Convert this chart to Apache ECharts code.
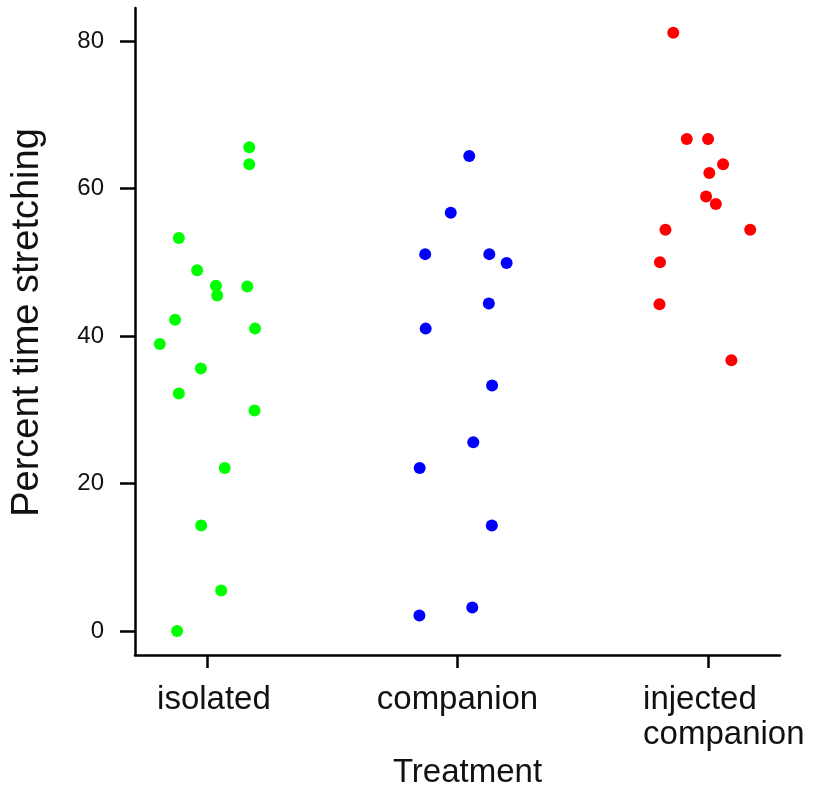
<!DOCTYPE html>
<html>
<head>
<meta charset="utf-8">
<script src="https://cdn.jsdelivr.net/npm/echarts@6/dist/echarts.min.js"></script>
<style>html,body{margin:0;padding:0;background:#fff;overflow:hidden;}#c{width:813px;height:786px;}</style>
</head>
<body>
<div id="c"></div>
<script>
var categories = ['isolated', 'companion', 'injected\ncompanion'];
var colors = ['#00ff00', '#0000ff', '#ff0000'];
var yTicks = [0, 20, 40, 60, 80];

var isolatedValues = [65.6, 63.3, 53.3, 48.9, 46.8, 45.5, 46.7, 42.2, 41.0, 38.9, 35.6, 32.2, 29.9, 22.1, 14.3, 5.5, 0];
var isolatedJitter = [0.169, 0.169, -0.112, -0.039, 0.036, 0.041, 0.161, -0.127, 0.192, -0.188, -0.024, -0.112, 0.190, 0.071, -0.023, 0.057, -0.119];

var companionValues = [64.4, 56.7, 51.1, 51.1, 49.9, 44.4, 41.0, 33.3, 25.6, 22.1, 14.3, 3.2, 2.1];
var companionJitter = [0.047, -0.027, -0.129, 0.127, 0.196, 0.125, -0.127, 0.138, 0.063, -0.151, 0.137, 0.059, -0.152];

var injectedValues = [81.1, 66.7, 66.7, 63.3, 62.1, 58.9, 57.9, 54.4, 54.4, 50.0, 44.3, 36.7];
var injectedJitter = [-0.139, -0.085, 0.0, 0.060, 0.005, -0.008, 0.031, -0.170, 0.168, -0.192, -0.194, 0.093];

var groups = [
  {values: isolatedValues, jitter: isolatedJitter},
  {values: companionValues, jitter: companionJitter},
  {values: injectedValues, jitter: injectedJitter}
];

var series = groups.map(function (g, i) {
  return {
    type: 'scatter',
    name: categories[i],
    symbol: 'circle',
    symbolSize: 12,
    itemStyle: {color: colors[i], opacity: 1},
    data: g.values.map(function (v, k) { return [i + 1 + g.jitter[k], v]; })
  };
});

var font = '"Liberation Sans", Arial, sans-serif';
var chart = echarts.init(document.getElementById('c'));
chart.setOption({
  animation: false,
  backgroundColor: '#ffffff',
  grid: {left: 135, right: 33, top: 8, bottom: 131, containLabel: false, outerBoundsMode: 'none'},
  xAxis: {
    type: 'value',
    min: 0.713,
    max: 3.287,
    name: 'Treatment',
    nameLocation: 'middle',
    nameGap: 101,
    nameTextStyle: {fontFamily: font, fontSize: 33, color: '#111', padding: [0, 0, 0, 20]},
    axisLine: {show: true, onZero: false, lineStyle: {color: '#000', width: 2.5}},
    axisTick: {show: true, length: 13, lineStyle: {color: '#000', width: 2.5}, customValues: [1, 2, 3]},
    axisLabel: {
      fontFamily: font, fontSize: 33, color: '#111', margin: 27, lineHeight: 35,
      customValues: [1, 2, 3],
      formatter: function (v) {
        var idx = Math.round(v) - 1;
        var t = categories[idx];
        if (t.indexOf('\n') >= 0) {
          return t.split('\n').map(function (s) { return '{l|' + s + '}'; }).join('\n');
        }
        if (idx === 0) {
          return '{s|' + t + '}';
        }
        return t;
      },
      rich: {
        l: {fontFamily: font, fontSize: 33, color: '#111', lineHeight: 35, width: 130, align: 'left', overflow: 'none'},
        s: {fontFamily: font, fontSize: 33, color: '#111', lineHeight: 35, padding: [0, 0, 0, 14]}
      }
    },
    splitLine: {show: false}
  },
  yAxis: {
    type: 'value',
    min: -3.25,
    max: 84.47,
    name: 'Percent time stretching',
    nameLocation: 'middle',
    nameGap: 88,
    nameTextStyle: {fontFamily: font, fontSize: 38, color: '#111', padding: [0, 0, 0, 18]},
    axisLine: {show: true, onZero: false, lineStyle: {color: '#000', width: 2.5}},
    axisTick: {show: true, length: 15, lineStyle: {color: '#000', width: 2.5}, customValues: yTicks},
    axisLabel: {fontFamily: font, fontSize: 24, color: '#111', margin: 31, customValues: yTicks},
    splitLine: {show: false}
  },
  series: series
});
</script>
</body>
</html>
